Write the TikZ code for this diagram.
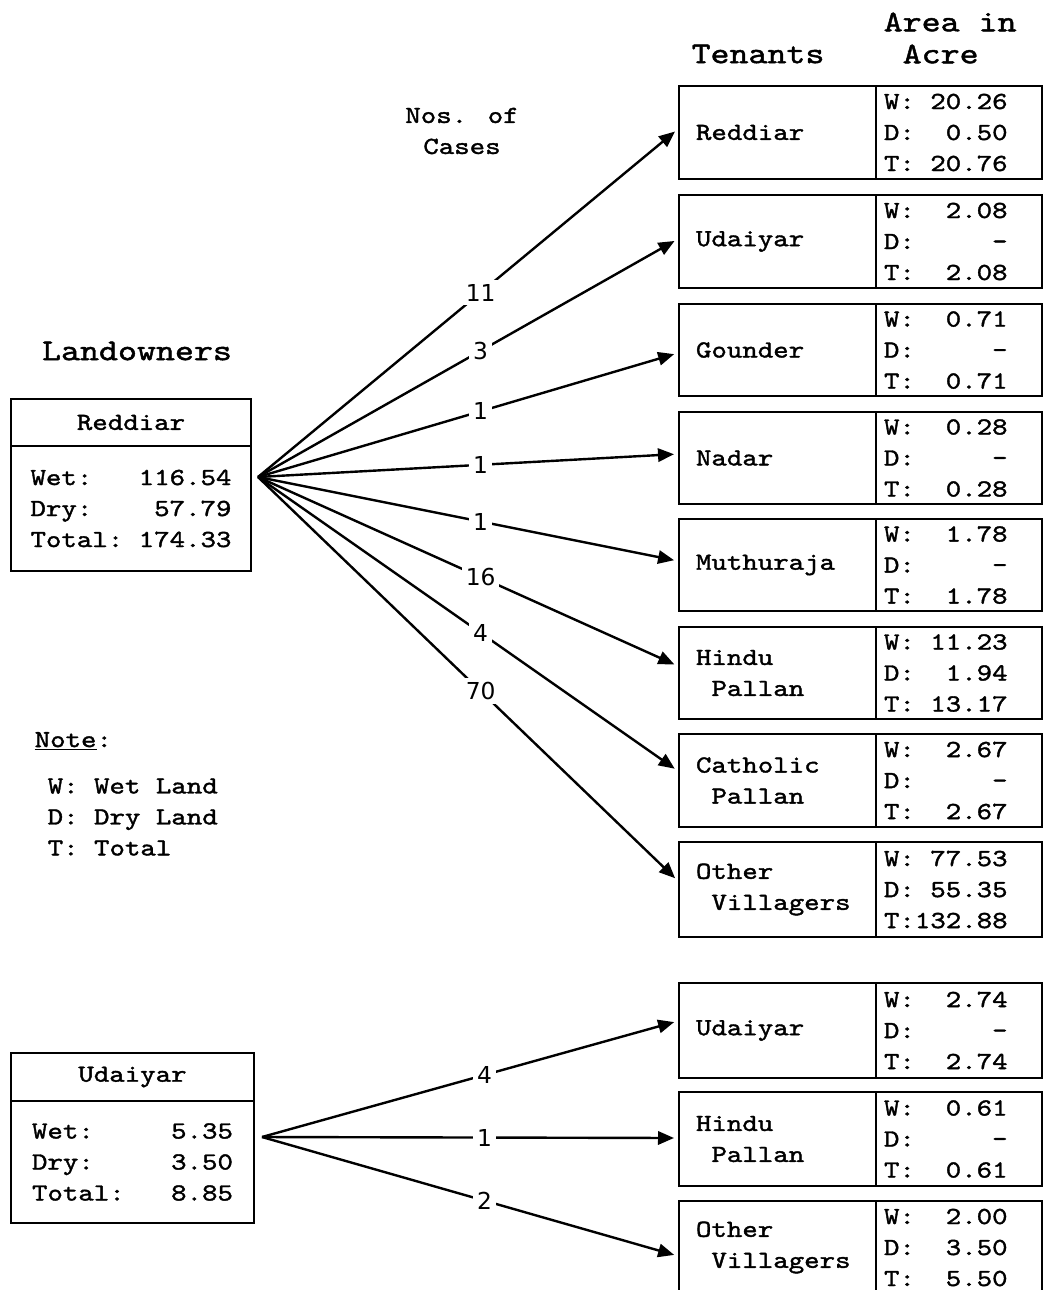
\documentclass[tikz,border=0pt]{standalone}
\usepackage{fontspec}
\newfontfamily\cour{lmmono10-regular.otf}[FakeStretch=1.2, FakeBold=1.5]
\newfontfamily\lblfont{DejaVu Sans}
\usetikzlibrary{arrows.meta,calc}
\newcommand\drow[2]{\makebox[92.7pt]{#1\hfill#2}}
\newcommand\lrow[2]{\makebox[150.7pt]{#1\hfill#2}}
\begin{document}
\begin{tikzpicture}[x=0.75pt,y=-0.75pt,
  every node/.style={font=\cour\fontsize{18.4}{23.25}\selectfont},
  box/.style={draw, line width=1.5pt, rectangle, inner ysep=0pt},
  tbox/.style={box, anchor=north west, align=left, text width=122.25pt, inner xsep=12.75pt, minimum width=147.75pt},
  dbox/.style={box, anchor=north west, align=left, text width=112.5pt, inner xsep=6pt, minimum width=124.5pt},
  arr/.style={line width=1.8pt, -{Triangle[length=12pt,width=10pt]}, shorten >=3pt},
  lbl/.style={fill=white, inner sep=3pt, font=\lblfont\fontsize{17.5}{20}\selectfont},
  title/.style={align=center},
  bigtitle/.style={font=\cour\fontsize{22.6}{24}\selectfont}
]
\useasboundingbox (0,0) rectangle (1043,1290);
\newcommand\tenant[7]{%
  \node[tbox, minimum height={(#3-#2)*0.75pt}] (#1) at (678,#2) {#4};
  \node[dbox, minimum height={(#3-#2)*0.75pt}] (#1d) at (875,#2) {\drow{W:}{#5}\\\drow{D:}{#6}\\\drow{T:}{#7}};
}
% titles
\node[bigtitle] (hTen) at (758,54) {Tenants};
\node[bigtitle, align=left, anchor=west] (hArea) at (879,38) {Area in\\\phantom{x}Acre};
\node[title] (hNos) at (462,131) {Nos. of\\Cases};
\node[bigtitle] (hLand) at (137,351) {Landowners};
% tenants (upper group)
\tenant{t1}{85}{178}{Reddiar}{20.26}{0.50}{20.76}
\tenant{t2}{194}{287}{Udaiyar}{2.08}{-}{2.08}
\tenant{t3}{303}{395}{Gounder}{0.71}{-}{0.71}
\tenant{t4}{411}{503}{Nadar}{0.28}{-}{0.28}
\tenant{t5}{518}{610}{Muthuraja}{1.78}{-}{1.78}
\tenant{t6}{626}{718}{Hindu\\\phantom{x}Pallan}{11.23}{1.94}{13.17}
\tenant{t7}{733}{826}{Catholic\\\phantom{x}Pallan}{2.67}{-}{2.67}
\tenant{t8}{841}{936}{Other\\\phantom{x}Villagers}{77.53}{55.35}{132.88}
% tenants (lower group)
\tenant{u1}{982}{1077}{Udaiyar}{2.74}{-}{2.74}
\tenant{u2}{1091}{1185}{Hindu\\\phantom{x}Pallan}{0.61}{-}{0.61}
\tenant{u3}{1200}{1293}{Other\\\phantom{x}Villagers}{2.00}{3.50}{5.50}
% landowners
\node[box, anchor=north west, minimum width=180pt, minimum height=35.25pt] (lo1h) at (10,398) {Reddiar};
\node[box, anchor=north west, minimum width=180pt, minimum height=93.75pt, align=left] (lo1b) at (10,445)
  {\lrow{Wet:}{116.54}\\\lrow{Dry:}{57.79}\\\lrow{Total:}{174.33}};
\node[box, anchor=north west, minimum width=182.25pt, minimum height=36pt] (lo2h) at (10,1052) {Udaiyar};
\node[box, anchor=north west, minimum width=182.25pt, minimum height=91.5pt, align=left] (lo2b) at (10,1100)
  {\lrow{Wet:}{5.35}\\\lrow{Dry:}{3.50}\\\lrow{Total:}{8.85}};
% note
\node[anchor=west] (note) at (30,741) {\underline{Note}:};
\node[align=left, anchor=west] (notetext) at (43,817) {W: Wet Land\\D: Dry Land\\T: Total};
% fan sources
\coordinate (s1) at (258,477);
\coordinate (s2) at (262,1137);
% arrows upper
\draw[arr] (s1) -- node[lbl, pos=0.53] {11} ($(t1.west)+(0,-3.5)$);
\draw[arr] (s1) -- node[lbl, pos=0.53] {3} ($(t2.west)+(0,-2.5)$);
\draw[arr] (s1) -- node[lbl, pos=0.53] {1} ($(t3.west)+(0,3)$);
\draw[arr] (s1) -- node[lbl, pos=0.53] {1} ($(t4.west)+(0,-4)$);
\draw[arr] (s1) -- node[lbl, pos=0.53] {1} ($(t5.west)+(0,-4)$);
\draw[arr] (s1) -- node[lbl, pos=0.53] {16} ($(t6.west)+(0,-7)$);
\draw[arr] (s1) -- node[lbl, pos=0.53] {4} ($(t7.west)+(0,-9.5)$);
\draw[arr] (s1) -- node[lbl, pos=0.53] {70} ($(t8.west)+(0,-8.5)$);
% arrows lower
\draw[arr] (s2) -- node[lbl, pos=0.535] {4} ($(u1.west)+(0,-9.5)$);
\draw[arr] (s2) -- node[lbl, pos=0.535] {1} ($(u2.west)+(0,-1)$);
\draw[arr] (s2) -- node[lbl, pos=0.535] {2} ($(u3.west)+(0,8.5)$);
\end{tikzpicture}
\end{document}
